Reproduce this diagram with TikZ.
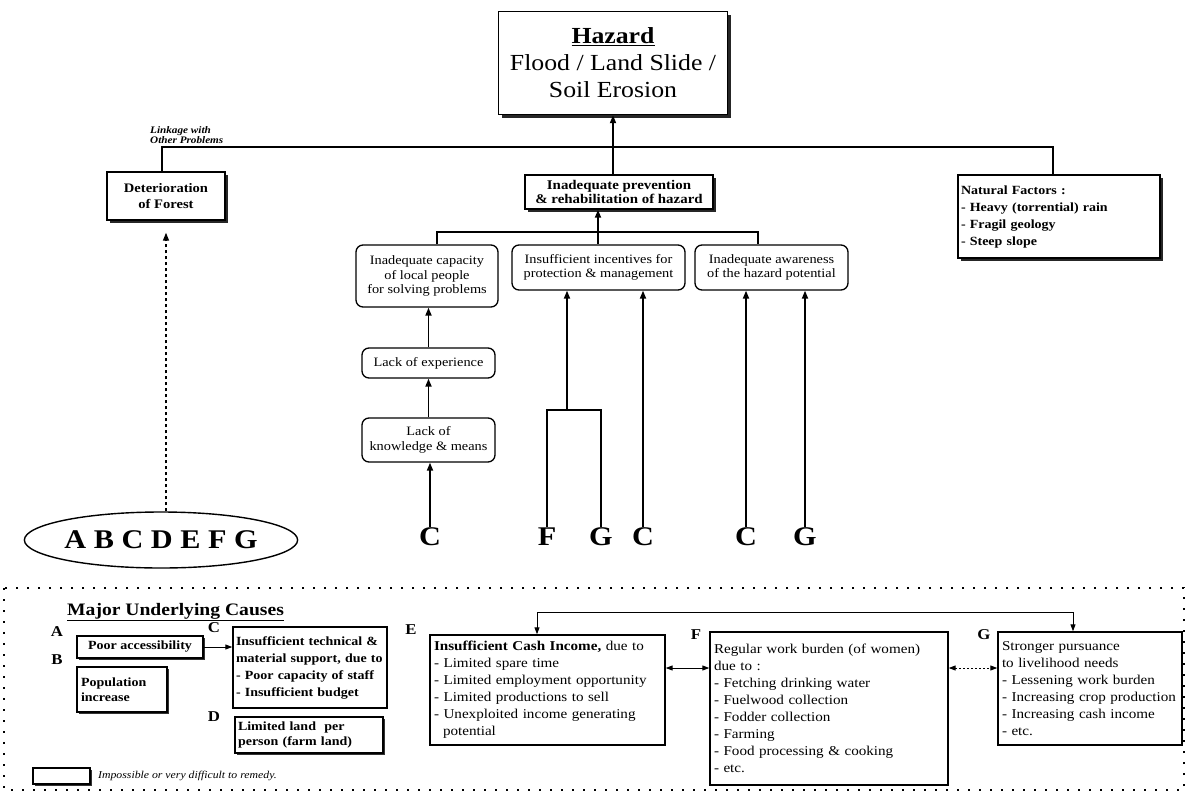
\documentclass[tikz,border=0pt]{standalone}
\usepackage{fontspec}
\setmainfont[FakeStretch=1.12]{Liberation Serif}
\usetikzlibrary{arrows.meta,shapes.geometric,shadows}
\newcommand\fsz[2]{\fontsize{#1}{#2}\selectfont}
\begin{document}
\begin{tikzpicture}[x=1pt,y=-1pt,
  arr/.style={-{Triangle[length=8pt,width=6pt]}, line width=1.7pt},
  sarr/.style={-{Triangle[length=7pt,width=5pt]}, line width=1pt},
  darr/.style={{Triangle[length=7pt,width=5pt]}-{Triangle[length=7pt,width=5pt]}, line width=1pt},
  shbox/.style={draw, line width=1.4pt, fill=white, inner sep=2pt, align=center,
    drop shadow={shadow xshift=3pt, shadow yshift=-3pt, fill=black, opacity=.85}},
  rbox/.style={draw, line width=1.3pt, rounded corners=7pt, fill=white, inner sep=2pt,
    align=center, font=\fsz{12.8}{14.5}},
  letter/.style={font=\bfseries\fsz{27}{27}, inner sep=1pt},
  lab/.style={font=\bfseries\fsz{15}{15}, inner sep=0pt},
  hardbox/.style={draw, line width=2pt, fill=white, inner sep=3pt, align=left,
    font=\bfseries\fsz{12.5}{15},
    drop shadow={shadow xshift=1.5pt, shadow yshift=-1.5pt, fill=black, opacity=.8}},
  causebox/.style={draw, line width=1.4pt, fill=white, inner sep=4pt, align=left,
    font=\fsz{13.5}{17}},
]
\useasboundingbox (0,0) rectangle (1189,793);

% ---------- upper problem tree ----------
\node[shbox, minimum width=229pt, minimum height=103pt, font=\fsz{23}{27}]
  (hazard) at (613,63) {\underline{\textbf{Hazard}}\\Flood / Land Slide /\\Soil Erosion};

\node[shbox, minimum width=118pt, minimum height=48pt, font=\bfseries\fsz{13}{16}]
  (forest) at (166,196) {Deterioration\\of Forest};

\node[shbox, minimum width=188pt, minimum height=34pt, font=\bfseries\fsz{13.3}{14}]
  (prevent) at (619,192) {Inadequate prevention\\\& rehabilitation of hazard};

\node[shbox, minimum width=202pt, minimum height=83pt, text width=196pt, align=left,
  font=\bfseries\fsz{12.5}{17}]
  (natural) at (1059,216.5) {Natural Factors :\\- Heavy (torrential) rain\\- Fragil geology\\- Steep slope};

\node[anchor=south west, align=left, inner sep=0pt, font=\bfseries\itshape\fsz{10}{10.5}]
  (linkage) at (150,144) {Linkage with\\Other Problems};

\node[rbox, minimum width=142pt, minimum height=62pt] (capacity) at (427,276)
  {Inadequate capacity\\of local people\\for solving problems};
\node[rbox, minimum width=173pt, minimum height=45pt] (incent) at (598.5,267.5)
  {Insufficient incentives for\\protection \& management};
\node[rbox, minimum width=153pt, minimum height=45pt] (aware) at (771.5,267.5)
  {Inadequate awareness\\of the hazard potential};
\node[rbox, minimum width=133pt, minimum height=30pt] (exper) at (428.5,363)
  {Lack of experience};
\node[rbox, minimum width=133pt, minimum height=44pt] (knowl) at (428.5,440)
  {Lack of\\knowledge \& means};

\node[letter] (c1) at (430,537) {C};
\node[letter] (f1) at (547,537) {F};
\node[letter] (g1) at (601,537) {G};
\node[letter] (c2) at (643,537) {C};
\node[letter] (c3) at (746,537) {C};
\node[letter] (g2) at (805,537) {G};

\node[draw, ellipse, line width=1.4pt, minimum width=228pt, minimum height=56pt,
  font=\bfseries\fsz{27}{27}, inner sep=0pt] (all) at (161,540) {A B C D E F G};

% links of the tree
\coordinate (treeL) at (162,147);
\coordinate (treeR) at (1053,147);
\coordinate (midJ) at (598,232);
\coordinate (midL) at (437,232);
\coordinate (midR) at (758,232);
\coordinate (fgJ) at (567,410);

\draw[line width=1.3pt] (forest.north -| treeL) -- (treeL) -- (treeR) -- (natural.north -| treeR);
\draw[arr] (hazard.south |- prevent.north) -- (hazard.south);
\draw[line width=1.3pt] (capacity.north -| midL) -- (midL) -- (midR) -- (aware.north -| midR);
\draw[line width=1.3pt] (midJ) -- (incent.north -| midJ);
\draw[arr] (midJ) -- (prevent.south -| midJ);

\draw[arr] (exper.north) -- (capacity.south -| exper.north);
\draw[arr] (knowl.north) -- (exper.south);
\draw[arr] (c1.north) -- (knowl.south -| c1.north);

\draw[line width=1.7pt] (f1.north) -- (f1.north |- fgJ) -- (g1.north |- fgJ) -- (g1.north);
\draw[arr] (fgJ) -- (incent.south -| fgJ);
\draw[arr] (c2.north) -- (incent.south -| c2.north);
\draw[arr] (c3.north) -- (aware.south -| c3.north);
\draw[arr] (g2.north) -- (aware.south -| g2.north);

\draw[arr, line width=1.3pt, dashed, shorten >=12pt] (all.north -| forest.south) -- (forest.south);

% ---------- major underlying causes ----------
\draw[line width=2pt, dash pattern=on 2pt off 9pt] (4,588) rectangle (1184,790);

\node[anchor=west, inner sep=0pt, font=\bfseries\fsz{17.5}{17.5}] (title) at (67,612)
  {\underline{Major Underlying Causes}};

\node[lab] (la) at (57,632) {A};
\node[hardbox, minimum width=126pt, minimum height=22pt, align=center] (pa) at (140,647)
  {Poor accessibility};
\node[lab] (lb) at (57,660) {B};
\node[hardbox, minimum width=90pt, minimum height=45pt, text width=82pt] (pop) at (122,689.5)
  {Population\\increase};
\node[lab] (lc) at (214,628) {C};
\node[draw, line width=1.4pt, fill=white, inner sep=3pt, align=left, font=\bfseries\fsz{12.5}{17},
  minimum width=154pt, minimum height=81pt, text width=148pt] (cb) at (310,667.5)
  {Insufficient technical \&\\material support, due to\\- Poor capacity of staff\\- Insufficient budget};
\node[lab] (ld) at (214,717) {D};
\node[hardbox, minimum width=148pt, minimum height=36pt, text width=142pt] (db) at (309,735)
  {Limited land\ \ per\\person (farm land)};

\node[lab] (le) at (411,630) {E};
\node[causebox, minimum width=235pt, minimum height=110pt, text width=227pt] (eb) at (547.5,690)
  {\textbf{Insufficient Cash Income,} due to\\- Limited spare time\\- Limited employment opportunity\\- Limited productions to sell\\- Unexploited income generating\\\ \ potential};
\node[lab] (lf) at (696,635) {F};
\node[causebox, minimum width=238pt, minimum height=153pt, text width=230pt] (fb) at (829,708.5)
  {Regular work burden (of women)\\due to :\\- Fetching drinking water\\- Fuelwood collection\\- Fodder collection\\- Farming\\- Food processing \& cooking\\- etc.};
\node[lab] (lg) at (984,635) {G};
\node[causebox, minimum width=184pt, minimum height=113pt, text width=176pt] (gb) at (1090,688.5)
  {Stronger pursuance\\to livelihood needs\\- Lessening work burden\\- Increasing crop production\\- Increasing cash income\\- etc.};

\coordinate (rowEF) at (700,668);
\coordinate (topL) at (537,612);
\coordinate (topR) at (1073,612);
\draw[sarr] (pa.east) -- (pa.east -| cb.west);
\draw[darr] (eb.east |- rowEF) -- (fb.west |- rowEF);
\draw[darr, dash pattern=on 2pt off 2pt] (fb.east |- rowEF) -- (gb.west |- rowEF);
\draw[darr] (eb.north -| topL) -- (topL) -- (topR) -- (gb.north -| topR);

% legend
\node[hardbox, minimum width=57pt, minimum height=16pt] (legend) at (61.5,776) {};
\node[anchor=west, xshift=7pt, inner sep=0pt, font=\itshape\fsz{10.5}{10.5}] (legtext) at (legend.east)
  {Impossible or very difficult to remedy.};
\end{tikzpicture}
\end{document}
